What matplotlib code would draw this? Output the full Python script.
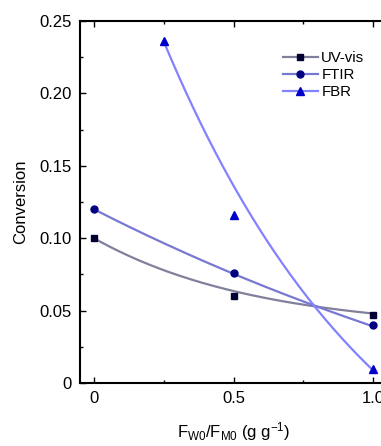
import matplotlib
matplotlib.use('Agg')
import matplotlib.pyplot as plt
import numpy as np
from matplotlib.ticker import MultipleLocator

plt.rcParams['font.family'] = ['Liberation Sans', 'DejaVu Sans']
plt.rcParams['mathtext.fontset'] = 'custom'
plt.rcParams['mathtext.rm'] = 'Liberation Sans'
plt.rcParams['mathtext.it'] = 'Liberation Sans:italic'

# measured points (F_W0/F_M0, conversion)
uv_x = [0.0, 0.5, 1.0]
uv_y = [0.100, 0.060, 0.047]
ftir_x = [0.0, 0.5, 1.0]
ftir_y = [0.120, 0.076, 0.040]
fbr_x = [0.25, 0.5, 1.0]
fbr_y = [0.236, 0.116, 0.010]

# exponential fit y = c + A*exp(-k*x), parameters
uv_fit = (0.0365, 0.0635, 1.71)
ftir_fit = (-0.120, 0.240, 0.411)
fbr_fit = (-0.143, 0.514, 1.22)


def expdec(x, params):
    c, a, k = params
    return c + a * np.exp(-k * x)


fig = plt.figure(figsize=(3.81, 4.46), dpi=100)
ax = fig.add_axes([80 / 381, 63 / 446, 307 / 381, 362 / 446])

series = [
    ('UV-vis', uv_x, uv_y, uv_fit, '#80809c', '#000033', 's', 5.0),
    ('FTIR', ftir_x, ftir_y, ftir_fit, '#7878d2', '#000080', 'o', 5.0),
    ('FBR', fbr_x, fbr_y, fbr_fit, '#8282ff', '#0000cc', '^', 5.5),
]

for name, xs, ys, fit, lc, mc, mk, ms in series:
    xx = np.linspace(min(xs), max(xs), 200)
    ax.plot(xx, expdec(xx, fit), color=lc, lw=1.6, zorder=2)
    ax.plot(xs, ys, ls='none', marker=mk, ms=ms, color=mc, zorder=3)
    # legend handle: line with marker
    ax.plot([], [], color=lc, lw=1.6, marker=mk, ms=ms, mfc=mc, mec=mc, label=name)

ax.set_xlim(-0.05, 1.05)
ax.set_ylim(0, 0.25)
ax.xaxis.set_major_locator(MultipleLocator(0.5))
ax.xaxis.set_minor_locator(MultipleLocator(0.25))
ax.yaxis.set_major_locator(MultipleLocator(0.05))
ax.yaxis.set_minor_locator(MultipleLocator(0.025))
ax.set_xticks([0, 0.5, 1.0])
ax.set_xticklabels(['0', '0.5', '1.0'])
ax.set_yticks([0, 0.05, 0.10, 0.15, 0.20, 0.25])
ax.set_yticklabels(['0', '0.05', '0.10', '0.15', '0.20', '0.25'])
ax.tick_params(which='both', direction='in', top=True, right=True, labelsize=12, width=1)
ax.tick_params(which='major', length=4, pad=6)
ax.tick_params(which='minor', length=2.5)
for sp in ax.spines.values():
    sp.set_linewidth(1.5)

ax.set_ylabel('Conversion', fontsize=12, labelpad=8)
ax.set_xlabel(r'F$_{\mathrm{W0}}$/F$_{\mathrm{M0}}$ (g g$^{-1}$)', fontsize=12, labelpad=10)

ax.legend(loc='upper left', bbox_to_anchor=(0.642, 0.933), frameon=False, fontsize=10.8,
          handlelength=2.3, handletextpad=0.25, labelspacing=0.2, borderaxespad=0)

fig.savefig('out.png', dpi=100)
